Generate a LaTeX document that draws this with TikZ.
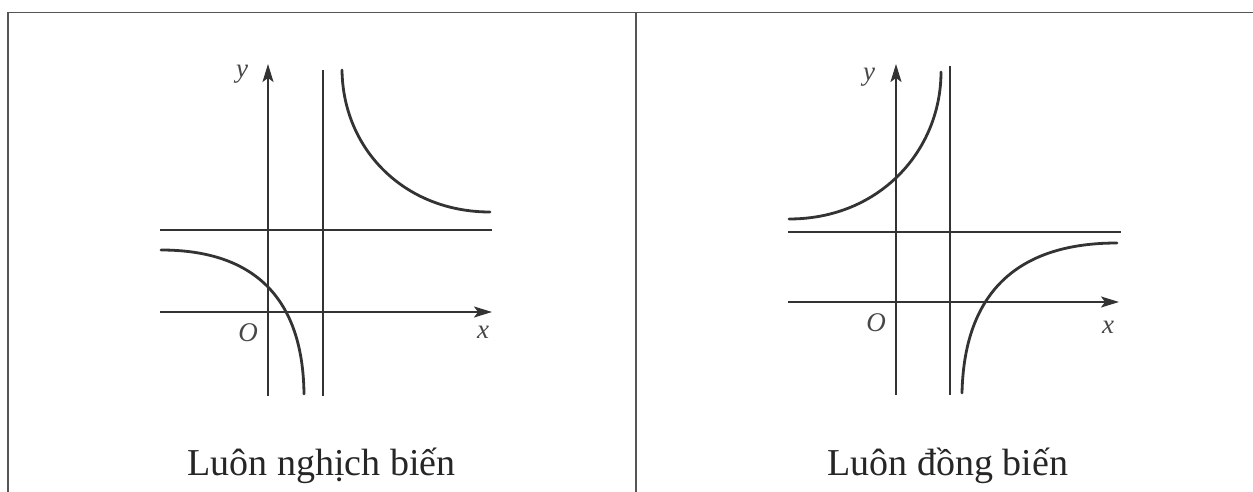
\documentclass[tikz,border=0pt]{standalone}
\usepackage{fontspec}
\setmainfont{Liberation Serif}
\usetikzlibrary{arrows.meta}
\definecolor{ink}{HTML}{333333}
\definecolor{frame}{HTML}{555555}
\begin{document}
\begin{tikzpicture}[x=1pt,y=-1pt,
  axisline/.style={draw=ink,line width=1.8pt},
  axisarrow/.style={axisline,-{Stealth[length=18pt,width=11pt,inset=4pt]}},
  graphline/.style={draw=ink,line width=2.8pt,line cap=round},
  framestyle/.style={draw=frame,line width=1.5pt},
  axlabel/.style={font=\fontsize{27}{27}\selectfont\itshape,text=ink!90,inner sep=0pt},
  caption/.style={font=\fontsize{38}{40}\selectfont,text=black!85,anchor=base,inner sep=0pt}]
\useasboundingbox (0,0) rectangle (1253,492);
\fill[white] (0,0) rectangle (1253,492);
% frame
\coordinate (fbl) at (8,492);
\coordinate (ftl) at (8,12.5);
\coordinate (ftr) at (1253,12.5);
\coordinate (fmt) at (636,12.5);
\coordinate (fmb) at (636,492);
\draw[framestyle] (fbl) -- (ftl) -- (ftr);
\draw[framestyle] (fmt) -- (fmb);
% ---------- left panel ----------
\coordinate (Lxa) at (160,312);
\coordinate (Lxb) at (492,312);
\coordinate (Lya) at (268,396);
\coordinate (Lyb) at (268,64);
\coordinate (Lva) at (323,396);
\coordinate (Lvb) at (323,70);
\coordinate (Lha) at (160,230);
\coordinate (Lhb) at (492,230);
\draw[axisarrow] (Lxa) -- (Lxb);
\draw[axisarrow] (Lya) -- (Lyb);
\draw[axisline] (Lva) -- (Lvb);
\draw[axisline] (Lha) -- (Lhb);
\coordinate (La0) at (342,70);
\coordinate (La1) at (490,212);
\draw[graphline] (La0) .. controls (343,150) and (405,212) .. (La1);
\coordinate (Lb0) at (161,250);
\coordinate (Lb1) at (304,394);
\draw[graphline] (Lb0) .. controls (256,250) and (303,300) .. (Lb1);
\node[axlabel] (Ly) at (242,74) {y};
\node[axlabel] (LO) at (248,333) {O};
\node[axlabel] (Lx) at (483,332) {x};
\node[caption] (Lcap) at (321.5,475) {Luôn nghịch biến};
% ---------- right panel ----------
\coordinate (Rxa) at (788,302);
\coordinate (Rxb) at (1119,302);
\coordinate (Rya) at (896,395);
\coordinate (Ryb) at (896,64);
\coordinate (Rva) at (950,395);
\coordinate (Rvb) at (950,66);
\coordinate (Rha) at (788,232);
\coordinate (Rhb) at (1121,232);
\draw[axisarrow] (Rxa) -- (Rxb);
\draw[axisarrow] (Rya) -- (Ryb);
\draw[axisline] (Rva) -- (Rvb);
\draw[axisline] (Rha) -- (Rhb);
\coordinate (Ra0) at (789,219);
\coordinate (Ra1) at (941,72);
\draw[graphline] (Ra0) .. controls (880,219) and (941,150) .. (Ra1);
\coordinate (Rb0) at (962,393);
\coordinate (Rb1) at (1117,243);
\draw[graphline] (Rb0) .. controls (964,300) and (1010,243) .. (Rb1);
\node[axlabel] (Ry) at (869,77) {y};
\node[axlabel] (RO) at (876,323) {O};
\node[axlabel] (Rx) at (1108,327) {x};
\node[caption] (Rcap) at (948,475) {Luôn đồng biến};
\end{tikzpicture}
\end{document}
